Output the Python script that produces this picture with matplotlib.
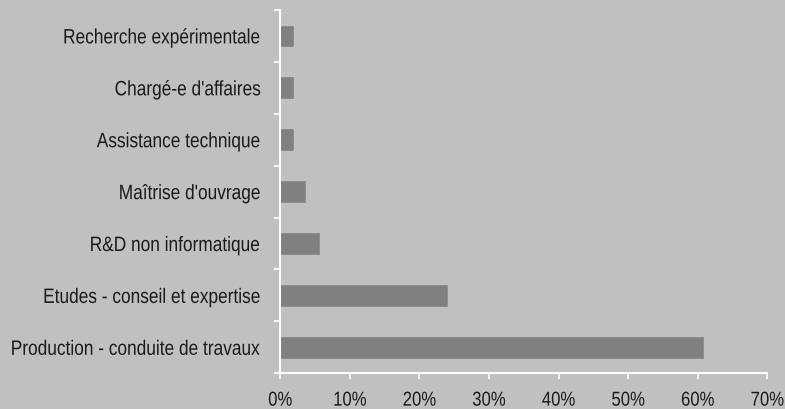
import numpy as np
import matplotlib.pyplot as plt
from matplotlib.patheffects import AbstractPathEffect
from matplotlib.transforms import Affine2D, Bbox

plt.rcParams["font.family"] = ["Liberation Sans", "DejaVu Sans"]

categories = [
    "Production - conduite de travaux",
    "Etudes - conseil et expertise",
    "R&D non informatique",
    "Maîtrise d'ouvrage",
    "Assistance technique",
    "Chargé-e d'affaires",
    "Recherche expérimentale",
]
shares = [60.8, 23.9, 5.5, 3.6, 1.8, 1.8, 1.8]
xticks = [0, 10, 20, 30, 40, 50, 60, 70]


class Narrow(AbstractPathEffect):
    # squeeze glyphs sideways to mimic a narrow font (no Arial Narrow here)
    def __init__(self, extent, factor, anchor):
        super().__init__()
        self.extent = extent
        self.factor = factor
        self.anchor = anchor

    def draw_path(self, renderer, gc, tpath, affine, rgbFace=None):
        bb = self.extent(renderer)
        x0 = bb.x1 if self.anchor == "right" else (bb.x0 + bb.x1) / 2
        squeeze = Affine2D().translate(-x0, 0).scale(self.factor, 1).translate(x0, 0)
        renderer.draw_path(gc, tpath, affine + squeeze, rgbFace)


def make_narrow(t, factor=0.83, anchor="right"):
    orig = t.get_window_extent

    def extent(renderer=None, dpi=None):
        bb = orig(renderer, dpi)
        x0 = bb.x1 if anchor == "right" else (bb.x0 + bb.x1) / 2
        return Bbox.from_extents(x0 + (bb.x0 - x0) * factor, bb.y0,
                                 x0 + (bb.x1 - x0) * factor, bb.y1)

    t.set_path_effects([Narrow(orig, factor, anchor)])
    t.get_window_extent = extent


bg = "#c0c0c0"
fig = plt.figure(figsize=(7.85, 4.09), dpi=100, facecolor=bg)
ax = fig.add_axes([0.357, 0.0873, 0.6205, 0.8883])
ax.set_facecolor(bg)

y = np.arange(len(categories))
ax.barh(y, shares, height=0.4, color="#808080", edgecolor="#8a8a8a", linewidth=0.6)

ax.set_xlim(0, 70)
ax.set_ylim(-0.5, len(categories) - 0.5)

ax.set_xticks(xticks)
ax.set_xticklabels([f"{v}%" for v in xticks])

# category labels sit between the tick marks, Excel-style
ax.set_yticks(np.arange(len(categories) + 1) - 0.5)
ax.set_yticklabels([])
ax.set_yticks(y, minor=True)
ax.set_yticklabels(categories, minor=True)

ax.tick_params(axis="y", which="major", direction="out", length=4.5, width=1.2, color="white")
ax.tick_params(axis="y", which="minor", length=0, pad=14, labelsize=15, labelcolor="#1a1a1a")
ax.tick_params(axis="x", direction="out", length=4.5, width=1.2, color="white",
               pad=8, labelsize=14.5, labelcolor="#1a1a1a")

for side in ["top", "right"]:
    ax.spines[side].set_visible(False)
for side in ["left", "bottom"]:
    ax.spines[side].set_color("white")
    ax.spines[side].set_linewidth(1.5)

for t in ax.get_yticklabels(minor=True):
    make_narrow(t, anchor="right")
for t in ax.get_xticklabels():
    make_narrow(t, anchor="center")

fig.savefig("out.png", dpi=100, facecolor=bg)
